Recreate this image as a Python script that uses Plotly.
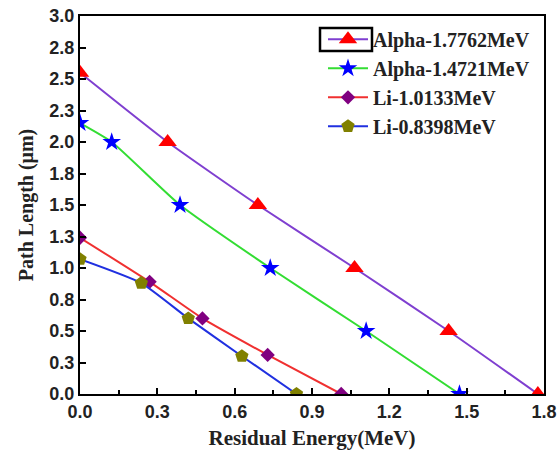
import plotly.graph_objects as go

# ---- data ----
names = ["Alpha-1.7762MeV", "Alpha-1.4721MeV", "Li-1.0133MeV", "Li-0.8398MeV"]
alpha1_x = [0.0, 0.34, 0.69, 1.065, 1.43, 1.7762]
alpha1_y = [2.55, 2.0, 1.5, 1.0, 0.5, 0.0]
alpha2_x = [0.0, 0.123, 0.388, 0.738, 1.11, 1.4721]
alpha2_y = [2.15, 2.0, 1.5, 1.0, 0.5, 0.0]
li1_x = [0.0, 0.27, 0.475, 0.728, 1.0133]
li1_y = [1.24, 0.89, 0.60, 0.31, 0.0]
li2_x = [0.0, 0.238, 0.42, 0.628, 0.8398]
li2_y = [1.07, 0.88, 0.60, 0.30, 0.0]

x_ticks = [0.0, 0.3, 0.6, 0.9, 1.2, 1.5, 1.8]
x_ticklabels = ["0.0", "0.3", "0.6", "0.9", "1.2", "1.5", "1.8"]
y_ticks = [0.0, 0.25, 0.5, 0.75, 1.0, 1.25, 1.5, 1.75, 2.0, 2.25, 2.5, 2.75, 3.0]
y_ticklabels = ["0.0", "0.3", "0.5", "0.8", "1.0", "1.3", "1.5", "1.8", "2.0", "2.3", "2.5", "2.8", "3.0"]

series = [
    (alpha1_x, alpha1_y, "#7f3fd0", "triangle-up", "#ff0000", 16),
    (alpha2_x, alpha2_y, "#33dd33", "star", "#0000ff", 14),
    (li1_x, li1_y, "#f03030", "diamond", "#800080", 11),
    (li2_x, li2_y, "#2030e0", "pentagon", "#808000", 14),
]

fig = go.Figure()
for name, (xs, ys, lc, sym, mc, ms) in zip(names, series):
    fig.add_trace(go.Scatter(
        x=xs, y=ys, name=name, mode="lines+markers",
        line=dict(color=lc, width=2, shape="spline", smoothing=0.5),
        marker=dict(symbol=sym, color=mc, size=ms, line=dict(width=0)),
        cliponaxis=True,
    ))

axis_common = dict(
    showline=True, linecolor="black", linewidth=2, mirror=True,
    ticks="inside", tickcolor="black", tickwidth=1.5, ticklen=6,
    showgrid=False, zeroline=False, automargin=False,
    ticklabeloverflow="allow",
    tickfont=dict(family="Liberation Sans", size=18, color="#222", weight="bold"),
)

fig.update_xaxes(
    range=[0, 1.8], tickvals=x_ticks, ticktext=x_ticklabels,
    minor=dict(ticks="inside", ticklen=4, tickcolor="black", tickwidth=1.5, dtick=0.15, tick0=0),
    title=dict(text="<b>Residual Energy(MeV)</b>", font=dict(family="Liberation Serif", size=21, color="#222"), standoff=10),
    **axis_common,
)
fig.update_yaxes(
    range=[0, 3.0], tickvals=y_ticks, ticktext=y_ticklabels,
    title=dict(text="<b>Path Length (μm)</b>", font=dict(family="Liberation Serif", size=20, color="#222"), standoff=10),
    **axis_common,
)

L, T, R, B = 80, 16, 544, 394  # plot area in page pixels
fig.update_layout(
    width=558, height=459,
    margin=dict(l=L, r=558 - R, t=T, b=459 - B),
    plot_bgcolor="white", paper_bgcolor="white",
    font=dict(family="Liberation Sans", color="#222"),
    legend=dict(
        x=(323 - L) / (R - L), y=0.99, xanchor="left", yanchor="top",
        bgcolor="rgba(0,0,0,0)", borderwidth=0,
        font=dict(family="Liberation Serif", size=20, color="#222", weight="bold"),
        itemwidth=40, tracegroupgap=0,
    ),
    shapes=[dict(type="rect", xref="paper", yref="paper",
                 x0=(320 - L) / (R - L), x1=(372 - L) / (R - L),
                 y0=(B - 51) / (B - T), y1=(B - 28) / (B - T),
                 line=dict(color="black", width=2.5))],
)

fig.write_html("out.html", config={"displayModeBar": False},
               post_script="document.body.style.margin='0';")
